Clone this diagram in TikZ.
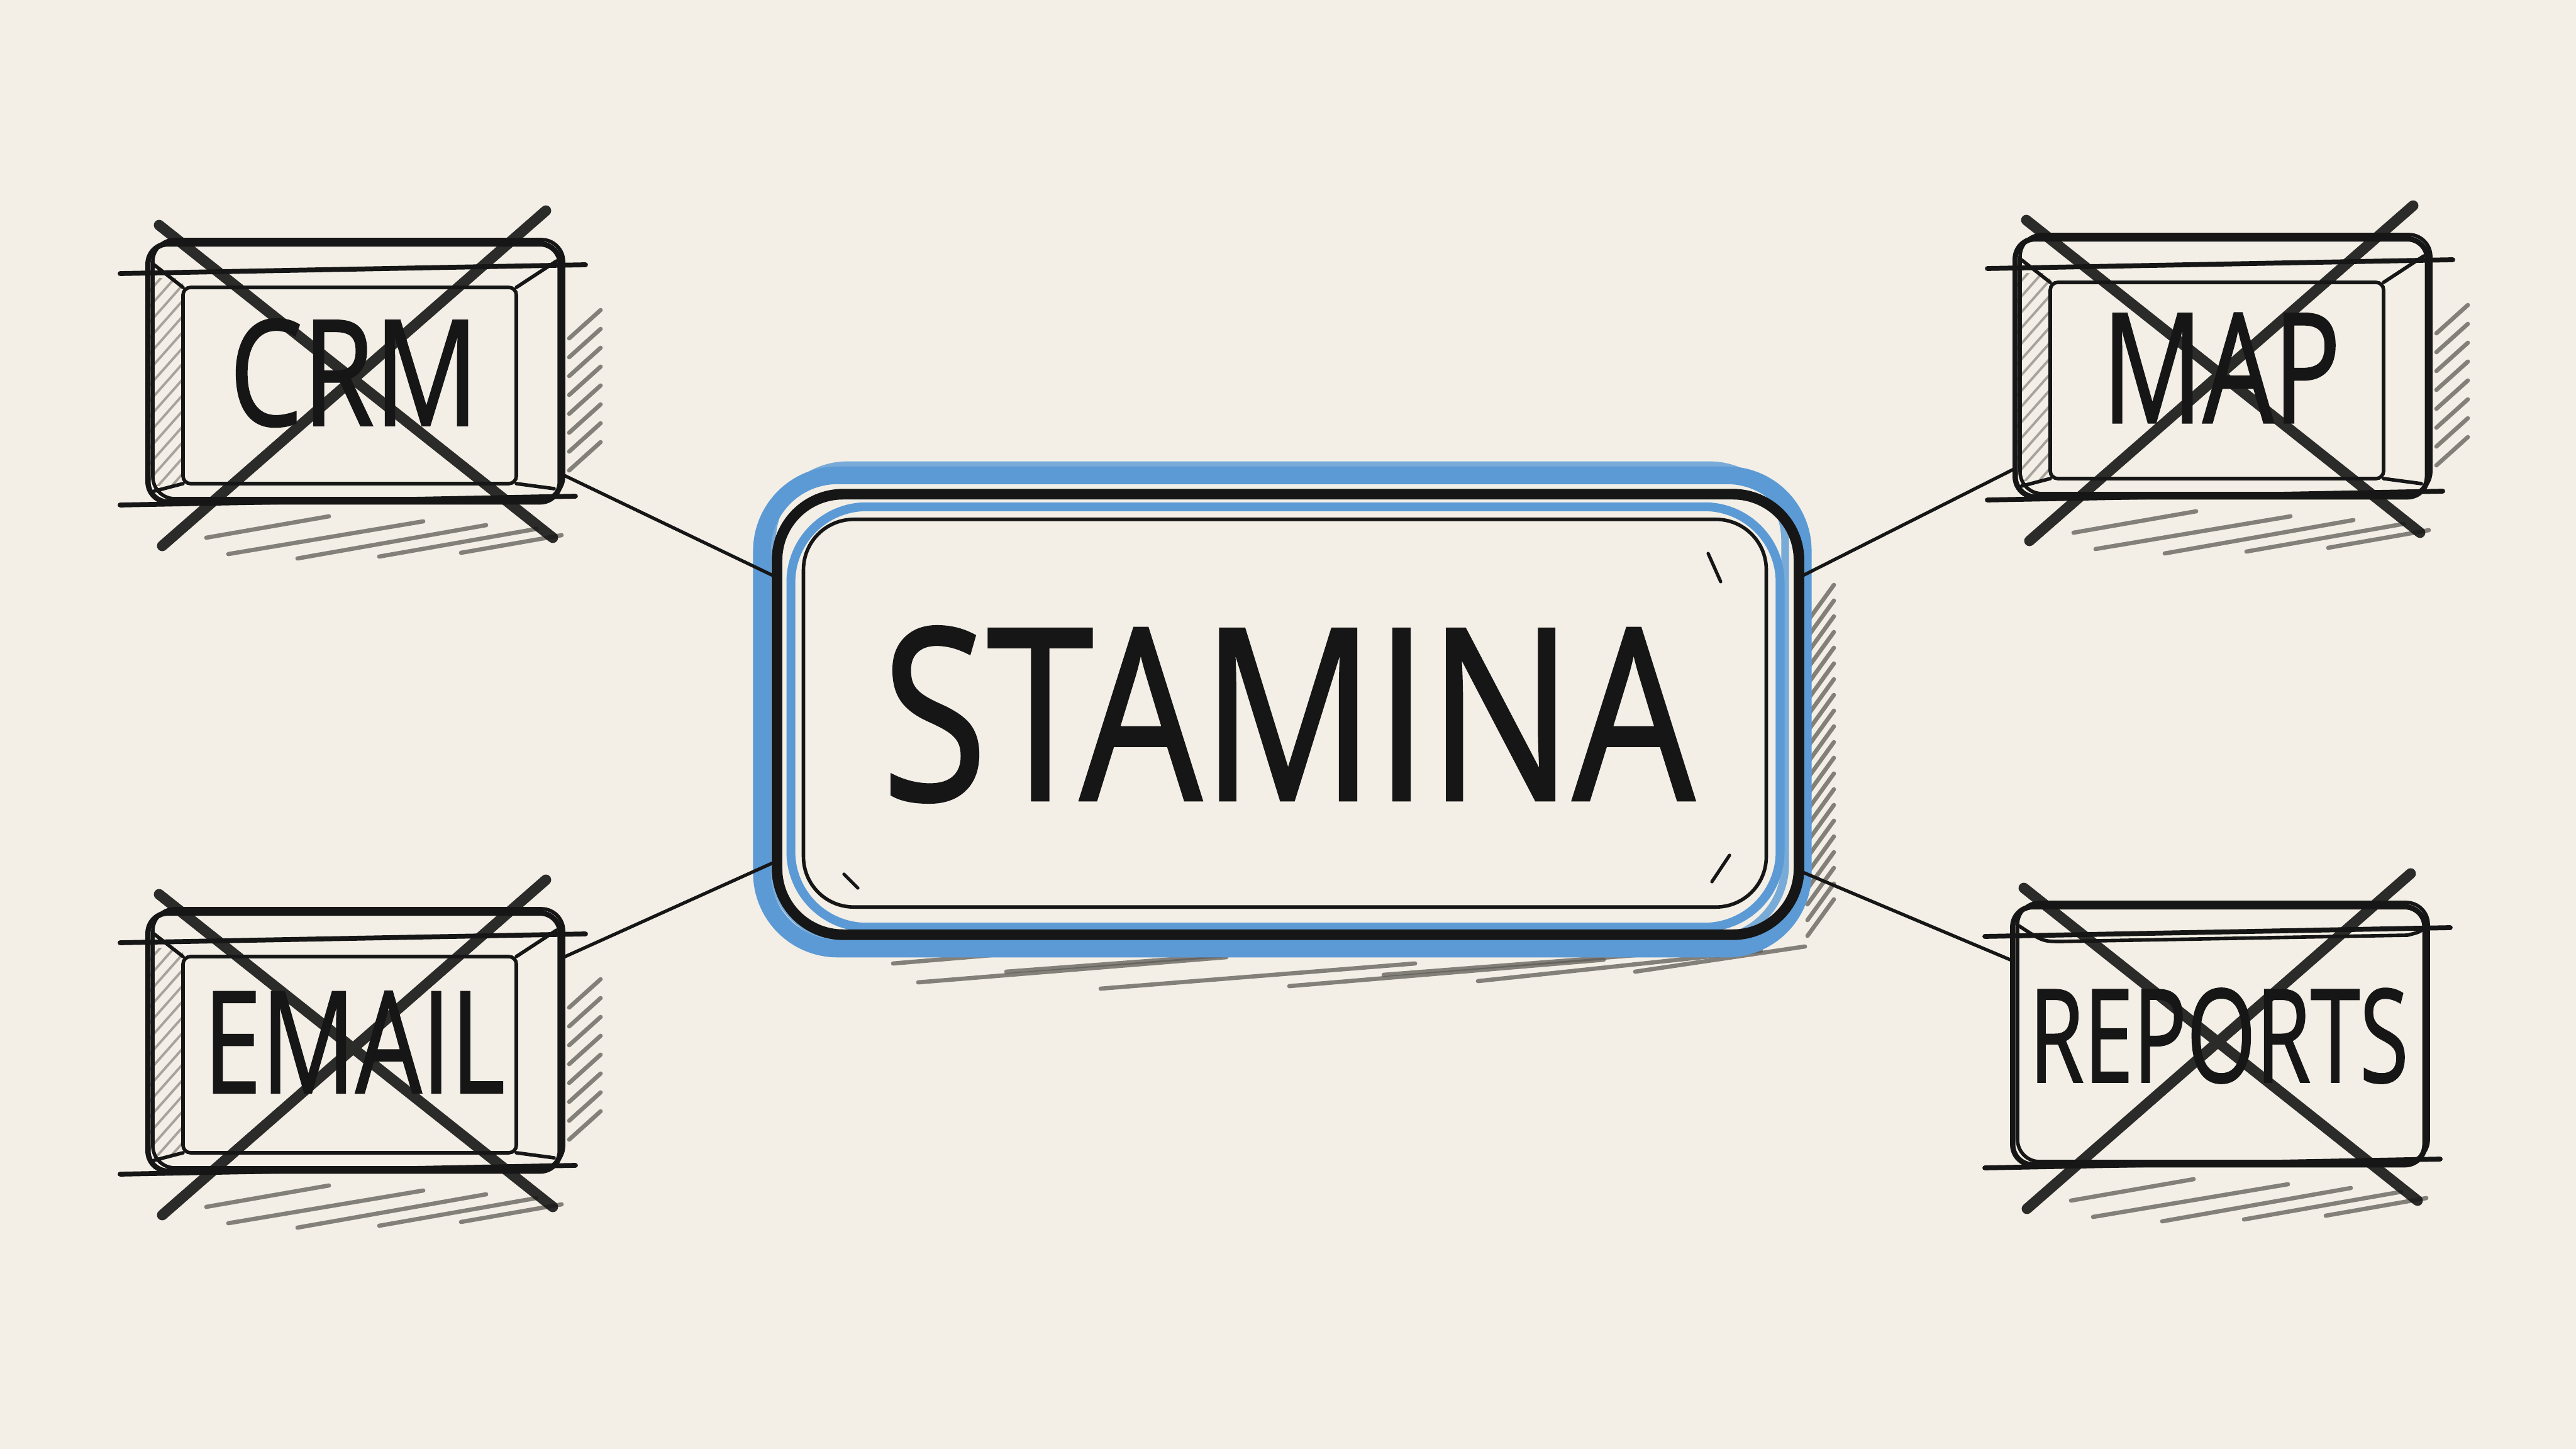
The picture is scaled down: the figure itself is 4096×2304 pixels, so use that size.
\documentclass[tikz,border=0pt]{standalone}
\usepackage{fontspec}
\setmainfont{Open Sans}
\newfontfamily\handfont{Open Sans}[FakeBold=1.3]
\definecolor{paper}{HTML}{F3EFE6}
\definecolor{pen}{HTML}{161616}
\definecolor{mblue}{HTML}{5B9AD5}
\definecolor{hatchc}{HTML}{5E5A55}
\definecolor{lhatchc}{HTML}{9A958E}
\tikzset{
  boxnode/.style={draw=pen, line width=2.4pt, rounded corners=0.32cm, minimum width=6.55cm, minimum height=4.1cm, inner sep=0pt, outer sep=0pt, text=pen, font=\handfont},
  thinpen/.style={draw=pen, line width=1.6pt, line cap=round},
  xstroke/.style={draw=pen, line width=4.8pt, line cap=round, draw opacity=0.9},
  shadehatch/.style={draw=hatchc, line width=1.9pt, line cap=round, draw opacity=0.75},
  bevelhatch/.style={draw=lhatchc, line width=1.1pt, draw opacity=0.85},
  conn/.style={draw=pen, line width=1.5pt},
  bluestroke/.style={draw=mblue, line cap=round, rounded corners=1.2cm},
  centerbox/.style={minimum width=16.24cm, minimum height=7cm, inner sep=0pt, outer sep=0pt, text=pen, font=\handfont},
}
\newcommand\sketchbox[7]{%
\begin{scope}[shift={(#2,#3)}]
  \draw[shadehatch] (-235,262) -- (-40,228);
  \draw[shadehatch] (-200,288) -- (110,236);
  \draw[shadehatch] (-90,295) -- (210,242);
  \draw[shadehatch] (40,292) -- (290,248);
  \draw[shadehatch] (170,286) -- (330,258);
  \ifnum#7=1
   \foreach \yy in {-80,-50,...,140} \draw[shadehatch] (342,\yy+25) -- (392,\yy-20);
   \begin{scope}
    \clip (-325,-150) rectangle (-272,180);
    \foreach \yy in {-180,-155,...,210} \draw[bevelhatch] (-330,\yy+30) -- (-268,\yy-40);
   \end{scope}
  \fi
  \node[boxnode] (#1) at (0,0) {\resizebox{#5cm}{#6cm}{#4}};
  \draw[thinpen, rounded corners=0.35cm] (-320,-212) rectangle (333,200);
  \ifnum#7=1
   \draw[thinpen, rounded corners=0.12cm] (-272,-136) rectangle (258,176);
   \draw[thinpen] (-318,-172) -- (-272,-136) (322,-178) -- (258,-136) (-318,188) -- (-272,176) (318,184) -- (258,176);
  \else
   \draw[thinpen] (-318,-175) .. controls (-280,-150) .. (-250,-150) -- (300,-160) .. controls (320,-165) .. (330,-175);
  \fi
  \draw[thinpen, line width=2.2pt] (-372,-158) -- (368,-172) (-372,210) -- (352,196);
  \draw[xstroke] (-310,-235) -- (316,262) (305,-258) -- (-305,275);
\end{scope}}
\begin{document}
\begin{tikzpicture}[x=0.01cm, y=-0.01cm]
\useasboundingbox (0,0) rectangle (4096,2304);
\fill[paper] (0,0) rectangle (4096,2304);

% central node
\node[centerbox] (stamina) at (2048,1136) {\resizebox{12.9cm}{2.75cm}{STAMINA}};

% central hatching
\foreach \a/\b/\c/\d in {1420/1532/1800/1500, 1460/1562/1950/1522, 1750/1572/2250/1532, 2050/1568/2550/1526, 2350/1560/2800/1512, 2600/1545/2870/1505, 1600/1545/2000/1515, 2200/1550/2650/1515}
  \draw[shadehatch] (\a,\b) -- (\c,\d);
\foreach \yy in {960,985,...,1460}
  \draw[shadehatch] (2874,\yy+28) -- (2916,\yy-30);

% blue and black outlines
\draw[bluestroke, line width=8pt] ([shift={(-24,-30)}]stamina.north west) rectangle ([shift={(6,22)}]stamina.south east);
\draw[bluestroke, line width=3.5pt, draw opacity=.8] ([shift={(-8,-46)}]stamina.north west) rectangle ([shift={(-22,8)}]stamina.south east);
\draw[bluestroke, line width=4pt] ([shift={(22,20)}]stamina.north west) rectangle ([shift={(-30,-12)}]stamina.south east);
\draw[pen, line width=1.6pt, rounded corners=0.8cm] ([shift={(42,40)}]stamina.north west) rectangle ([shift={(-52,-44)}]stamina.south east);
\draw[pen, line width=4.8pt, rounded corners=1.05cm] (stamina.north west) rectangle (stamina.south east);
\draw[pen, line width=1.5pt, line cap=round] (2716,880) -- (2736,925) (1342,1390) -- (1364,1412) (2750,1360) -- (2722,1402);

% side boxes
\sketchbox{crm}{563}{593}{CRM}{3.96}{1.69}{1}
\sketchbox{map}{3532}{585}{MAP}{3.79}{1.74}{1}
\sketchbox{email}{563}{1657}{EMAIL}{4.79}{1.61}{1}
\sketchbox{reports}{3528}{1647}{REPORTS}{6.03}{1.49}{0}

% connectors
\draw[conn] (crm.-26) -- (stamina.165);
\draw[conn] (map.206) -- (stamina.15);
\draw[conn] (email.22) -- (stamina.196);
\draw[conn] (reports.160) -- (stamina.343);
\end{tikzpicture}
\end{document}
